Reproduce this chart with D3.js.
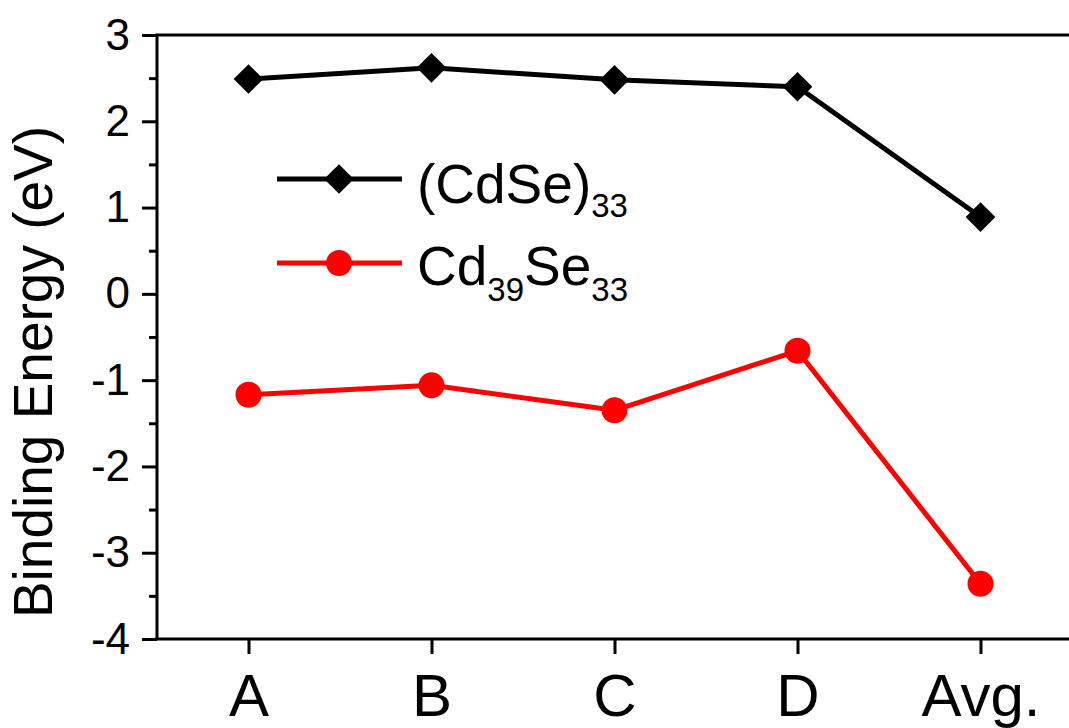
<!DOCTYPE html>
<html>
<head>
<meta charset="utf-8">
<script src="https://cdn.jsdelivr.net/npm/d3@7"></script>
<style>
  html, body { margin: 0; padding: 0; background: #fff; }
  svg { display: block; font-family: "Liberation Sans", Arial, sans-serif; }
</style>
</head>
<body>
<svg id="chart" width="1069" height="728"></svg>
<script>
// Binding energies (eV) per configuration
const categories = ["A", "B", "C", "D", "Avg."];
const cdse33 = [2.49, 2.62, 2.48, 2.40, 0.89];
const cd39se33 = [-1.17, -1.06, -1.35, -0.66, -3.36];
const yMajorTicks = [3, 2, 1, 0, -1, -2, -3, -4];
const yMinorTicks = [2.5, 1.5, 0.5, -0.5, -1.5, -2.5, -3.5];

const svg = d3.select("#chart");
const plotLeft = 157, plotRight = 1072, plotTop = 35, plotBottom = 639;

const x = d3.scaleLinear().domain([-0.5, categories.length - 0.5]).range([plotLeft, plotRight]);
const y = d3.scaleLinear().domain([-4, 3]).range([plotBottom, plotTop]);

// frame lines (left, bottom, top)
const axisColor = "#000";
svg.append("line").attr("x1", plotLeft).attr("x2", plotLeft).attr("y1", plotTop).attr("y2", plotBottom)
  .attr("stroke", axisColor).attr("stroke-width", 3);
svg.append("line").attr("x1", plotLeft - 1.5).attr("x2", 1069).attr("y1", plotBottom).attr("y2", plotBottom)
  .attr("stroke", axisColor).attr("stroke-width", 3);
svg.append("line").attr("x1", plotLeft - 1.5).attr("x2", 1069).attr("y1", plotTop).attr("y2", plotTop)
  .attr("stroke", axisColor).attr("stroke-width", 3);

// y axis (plain hyphen for negatives)
const yAxis = d3.axisLeft(y).tickValues(yMajorTicks).tickSize(15).tickPadding(12)
  .tickFormat(d => String(d));
const gy = svg.append("g").attr("transform", `translate(${plotLeft},0)`).call(yAxis);
gy.select(".domain").remove();
gy.selectAll(".tick line").attr("stroke", axisColor).attr("stroke-width", 3);
gy.selectAll(".tick text").attr("font-size", 44).attr("fill", "#000")
  .attr("font-family", "Liberation Sans, Arial, sans-serif");

const gyMinor = svg.append("g").attr("transform", `translate(${plotLeft},0)`)
  .call(d3.axisLeft(y).tickValues(yMinorTicks).tickSize(8).tickFormat(""));
gyMinor.select(".domain").remove();
gyMinor.selectAll(".tick line").attr("stroke", axisColor).attr("stroke-width", 3);

// x axis
const xAxis = d3.axisBottom(x).tickValues(d3.range(categories.length)).tickSize(15)
  .tickPadding(19).tickFormat(i => categories[i]);
const gx = svg.append("g").attr("transform", `translate(0,${plotBottom})`).call(xAxis);
gx.select(".domain").remove();
gx.selectAll(".tick line").attr("stroke", axisColor).attr("stroke-width", 3);
gx.selectAll(".tick text").attr("font-size", 60).attr("fill", "#000")
  .attr("font-family", "Liberation Sans, Arial, sans-serif");

// y axis title
svg.append("text")
  .attr("transform", "translate(52,372) rotate(-90)")
  .attr("text-anchor", "middle")
  .attr("font-size", 55)
  .text("Binding Energy (eV)");

// series
const line = d3.line().x((d, i) => x(i)).y(d => y(d));
const diamond = d3.symbol().type(d3.symbolSquare).size(21 * 21);

svg.append("path").datum(cdse33).attr("d", line)
  .attr("fill", "none").attr("stroke", "#000").attr("stroke-width", 5).attr("stroke-linejoin", "round");
svg.selectAll(".dia").data(cdse33).enter().append("path")
  .attr("class", "dia")
  .attr("d", diamond)
  .attr("transform", (d, i) => `translate(${x(i)},${y(d)}) rotate(45)`)
  .attr("fill", "#000");

svg.append("path").datum(cd39se33).attr("d", line)
  .attr("fill", "none").attr("stroke", "#ff0000").attr("stroke-width", 5).attr("stroke-linejoin", "round");
svg.selectAll(".dot").data(cd39se33).enter().append("circle")
  .attr("class", "dot")
  .attr("cx", (d, i) => x(i)).attr("cy", d => y(d)).attr("r", 13)
  .attr("fill", "#ff0000");

// legend
const lg = svg.append("g");
lg.append("line").attr("x1", 277).attr("x2", 402).attr("y1", 179).attr("y2", 179)
  .attr("stroke", "#000").attr("stroke-width", 5);
lg.append("path").attr("d", diamond).attr("transform", "translate(339,179) rotate(45)").attr("fill", "#000");
const t1 = lg.append("text").attr("x", 417).attr("y", 203).attr("font-size", 55);
t1.append("tspan").text("(CdSe)");
t1.append("tspan").attr("dy", 14).attr("font-size", 33).text("33");

lg.append("line").attr("x1", 277).attr("x2", 402).attr("y1", 263).attr("y2", 263)
  .attr("stroke", "#ff0000").attr("stroke-width", 5);
lg.append("circle").attr("cx", 339).attr("cy", 263).attr("r", 13).attr("fill", "#ff0000");
const t2 = lg.append("text").attr("x", 417).attr("y", 285).attr("font-size", 55);
t2.append("tspan").text("Cd");
t2.append("tspan").attr("dy", 16).attr("font-size", 33).text("39");
t2.append("tspan").attr("dy", -16).text("Se");
t2.append("tspan").attr("dy", 16).attr("font-size", 33).text("33");
</script>
</body>
</html>
